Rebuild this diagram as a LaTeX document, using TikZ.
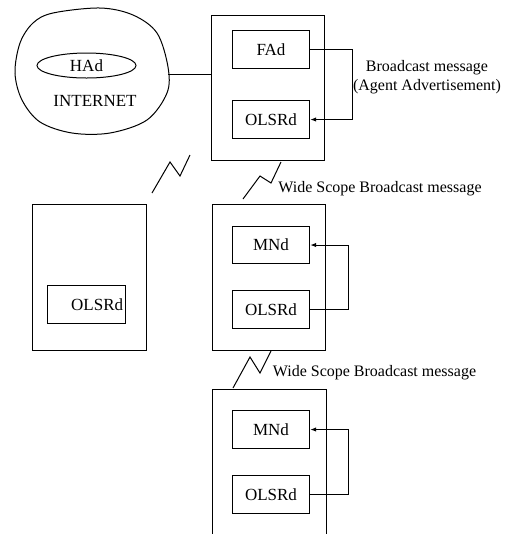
\documentclass[tikz,border=0pt]{standalone}
\usepackage{fontspec}
\setmainfont{Liberation Serif}
\usetikzlibrary{shapes.geometric,arrows.meta}
\begin{document}
\begin{tikzpicture}[x=0.6pt,y=-0.6pt,line width=0.6pt,
  host/.style={draw, minimum width=68.4pt, minimum height=88pt},
  daemon/.style={draw, minimum width=46.5pt, minimum height=22.5pt, font=\fontsize{10.2}{12}\selectfont},
  msg/.style={font=\fontsize{9.6}{11.5}\selectfont, align=center},
  bcast/.style={-{Latex[length=3.5pt,width=2.6pt]}}]

\useasboundingbox (0,0) rectangle (510,534);

% Internet (nuage)
\draw[smooth cycle, tension=0.55] plot coordinates {(53,13) (100,8) (133,15) (157,33) (168,67) (167,93)
  (147,120) (110,133) (72,133) (40,122) (22,100) (15,73) (20,43) (33,23)};
\coordinate (cloud) at (168,74);
\node[draw, ellipse, minimum width=59.4pt, minimum height=15pt, inner sep=0pt,
  font=\fontsize{10.2}{12}\selectfont] (had) at (86.5,65.5) {HAd};
\node[font=\fontsize{10.2}{12}\selectfont] (internet) at (95,101) {INTERNET};

% Agent etranger
\node[host, minimum height=87pt] (fa) at (268,87.5) {};
\node[daemon] (fad) at (271,49.5) {FAd};
\node[daemon] (olsrfa) at (271,119.5) {OLSRd};
\draw (cloud) -- (cloud -| fa.west);
\draw[bcast] (fad.east) -- ++(42,0) |- (olsrfa.east);
\node[msg] (advert) at (427,77) {Broadcast message\\(Agent Advertisement)};

% Noeud isole (gauche)
\node[host, minimum width=69pt] (mnleft) at (89.5,277.5) {};
\node[daemon, text width=44pt, align=right, inner xsep=1pt] (olsrleft) at (86.5,304.5) {OLSRd};

% Noeud mobile 1
\node[host] (mna) at (269,277.5) {};
\node[daemon] (mnda) at (271,245) {MNd};
\node[daemon] (olsra) at (271,309.5) {OLSRd};
\draw[bcast] (olsra.east) -- ++(38,0) |- (mnda.east);

% Noeud mobile 2 (coupe en bas)
\draw (212,534) -- (212,389) -- (326,389) -- (326,534);
\node[daemon] (mndb) at (271,429.5) {MNd};
\node[daemon] (olsrb) at (271,494.5) {OLSRd};
\draw[bcast] (olsrb.east) -- ++(38,0) |- (mndb.east);

% Liens radio
\draw (152,193) -- (170,162) -- (180,176) -- (190,155);
\draw (243,199) -- (260,176) -- (271,183) -- (281,162);
\draw (233,388) -- (250,357) -- (260,373) -- (271,351);
\node[msg] (wsb1) at (380,189) {Wide Scope Broadcast message};
\node[msg] (wsb2) at (374.5,373) {Wide Scope Broadcast message};

\end{tikzpicture}
\end{document}
